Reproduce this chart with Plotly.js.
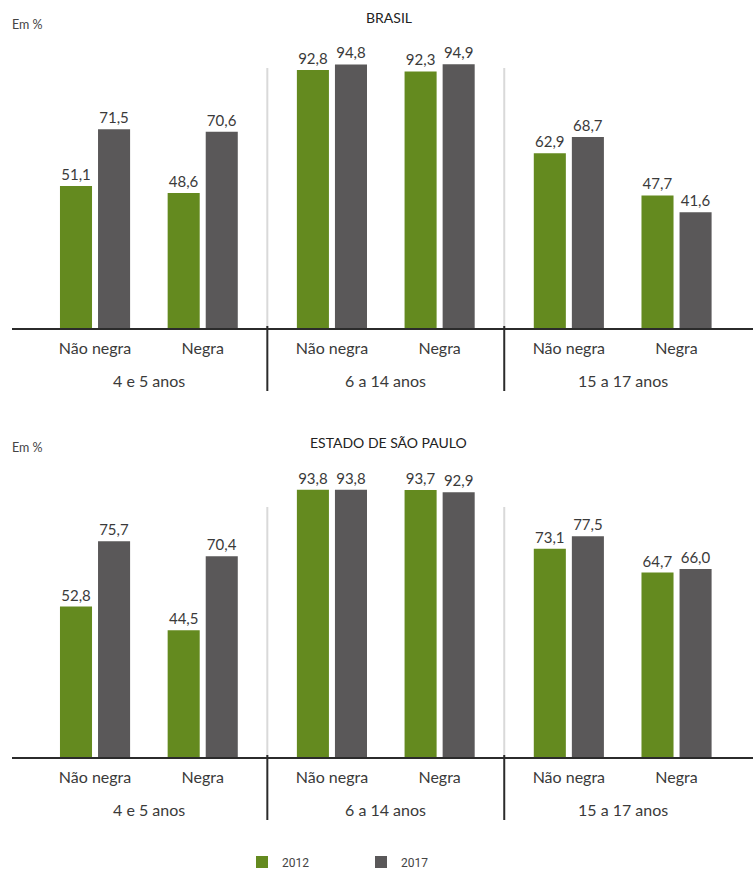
<!DOCTYPE html>
<html>
<head>
<meta charset="utf-8">
<script src="https://cdn.plot.ly/plotly-3.0.1.min.js"></script>
<style>html,body{margin:0;padding:0;background:#fff}#chart{width:753px;height:890px}</style>
</head>
<body>
<div id="chart"></div>
<script>
// ---- data ----
const groups = ['4 e 5 anos', '6 a 14 anos', '15 a 17 anos'];
const subgroups = ['Não negra', 'Negra'];
const seriesNames = ['2012', '2017'];
const brasil2012 = [51.1, 48.6, 92.8, 92.3, 62.9, 47.7];
const brasil2017 = [71.5, 70.6, 94.8, 94.9, 68.7, 41.6];
const sp2012 = [52.8, 44.5, 93.8, 93.7, 73.1, 64.7];
const sp2017 = [75.7, 70.4, 93.8, 92.9, 77.5, 66.0];
const panelTitles = ['BRASIL', 'ESTADO DE SÃO PAULO'];
const unitLabel = 'Em %';

// ---- layout helpers ----
const W = 753, H = 890, ML = 12, MR = 0;
const GAP = 2.2; // group spacing in category units
const nCat = brasil2012.length;
const pos = [];
const tickText = [];
for (let i = 0; i < nCat; i++) {
  pos.push(Math.floor(i / 2) * GAP + (i % 2));
  tickText.push(subgroups[i % 2]);
}
const px2x = p => (p - ML) / (W - ML - MR);
const py = y => (H - y) / H;

const green = '#648a1f', gray = '#5a5859', txt = '#3a3a3a';
const font = 'Lato, "Open Sans", sans-serif';

// panel geometry (pixels)
const panels = [
  { base: 328, top: 50, sepTop: 68, divBottom: 391, groupY: 380, titleY: 18, unitY: 24, d12: brasil2012, d17: brasil2017 },
  { base: 757, top: 472, sepTop: 507, divBottom: 820, groupY: 809, titleY: 442, unitY: 447, d12: sp2012, d17: sp2017 }
];

const traces = [];
const annotations = [];
const shapes = [];
const layout = {
  width: W, height: H,
  margin: { l: ML, r: MR, t: 0, b: 0 },
  paper_bgcolor: '#fff', plot_bgcolor: '#fff',
  barmode: 'group', bargap: 0.293, bargroupgap: 0.158,
  separators: ', ',
  font: { family: font, color: txt, size: 15 },
  showlegend: true,
  legend: {
    orientation: 'h', x: px2x(242), xanchor: 'left', y: py(862), yanchor: 'middle',
    font: { size: 12, color: '#444', family: 'Roboto, Arial, sans-serif' },
    entrywidth: 74, entrywidthmode: 'pixels', traceorder: 'normal'
  },
  annotations, shapes
};

const xRange = [-0.771, 6.11];
const sepX = [];
for (let g = 0; g < groups.length - 1; g++) sepX.push((g * GAP + 1 + (g + 1) * GAP) / 2);

panels.forEach((pn, k) => {
  const xa = k === 0 ? 'x' : 'x2', ya = k === 0 ? 'y' : 'y2';
  const xk = k === 0 ? 'xaxis' : 'xaxis2', yk = k === 0 ? 'yaxis' : 'yaxis2';
  [pn.d12, pn.d17].forEach((d, s) => {
    traces.push({
      type: 'bar', x: pos, y: d, xaxis: xa, yaxis: ya,
      name: seriesNames[s], showlegend: k === 0,
      legendgroup: seriesNames[s],
      marker: { color: s === 0 ? green : gray },
      text: d, texttemplate: '%{y:.1f}', textposition: 'outside',
      textfont: { size: 15, color: txt, family: font },
      cliponaxis: false, hoverinfo: 'skip'
    });
  });
  layout[xk] = {
    domain: [0, 1], range: xRange, anchor: ya,
    tickvals: pos, ticktext: tickText, ticks: '', ticklabelstandoff: 5,
    tickfont: { size: 16, color: txt, family: font },
    showline: true, linecolor: '#2b2b2b', linewidth: 2,
    showgrid: false, zeroline: false, fixedrange: true
  };
  layout[yk] = {
    domain: [py(pn.base), py(pn.top)], range: [0, 100], anchor: xa,
    visible: false, showgrid: false, zeroline: false, fixedrange: true
  };
  groups.forEach((g, gi) => {
    annotations.push({
      text: g, xref: xa, yref: 'paper', x: gi * GAP + 0.5, y: py(pn.groupY),
      xanchor: 'center', yanchor: 'middle', showarrow: false,
      font: { size: 16, color: txt, family: font }
    });
  });
  annotations.push({
    text: panelTitles[k], xref: 'paper', yref: 'paper', x: px2x(388.5), y: py(pn.titleY),
    xanchor: 'center', yanchor: 'middle', showarrow: false,
    font: { size: 14, color: '#222', family: font }
  });
  annotations.push({
    text: unitLabel, xref: 'paper', yref: 'paper', x: px2x(10), y: py(pn.unitY),
    xanchor: 'left', yanchor: 'middle', showarrow: false,
    font: { size: 12.5, color: '#444', family: font }
  });
  sepX.forEach(sx => {
    shapes.push({ type: 'line', xref: xa, yref: 'paper', x0: sx, x1: sx,
      y0: py(pn.sepTop), y1: py(pn.base), line: { color: '#d9d9d9', width: 2 }, layer: 'below' });
    shapes.push({ type: 'line', xref: xa, yref: 'paper', x0: sx, x1: sx,
      y0: py(pn.base - 2), y1: py(pn.divBottom), line: { color: '#2b2b2b', width: 2 } });
  });
});

Plotly.newPlot('chart', traces, layout, { displayModeBar: false, staticPlot: true });
</script>
</body>
</html>
